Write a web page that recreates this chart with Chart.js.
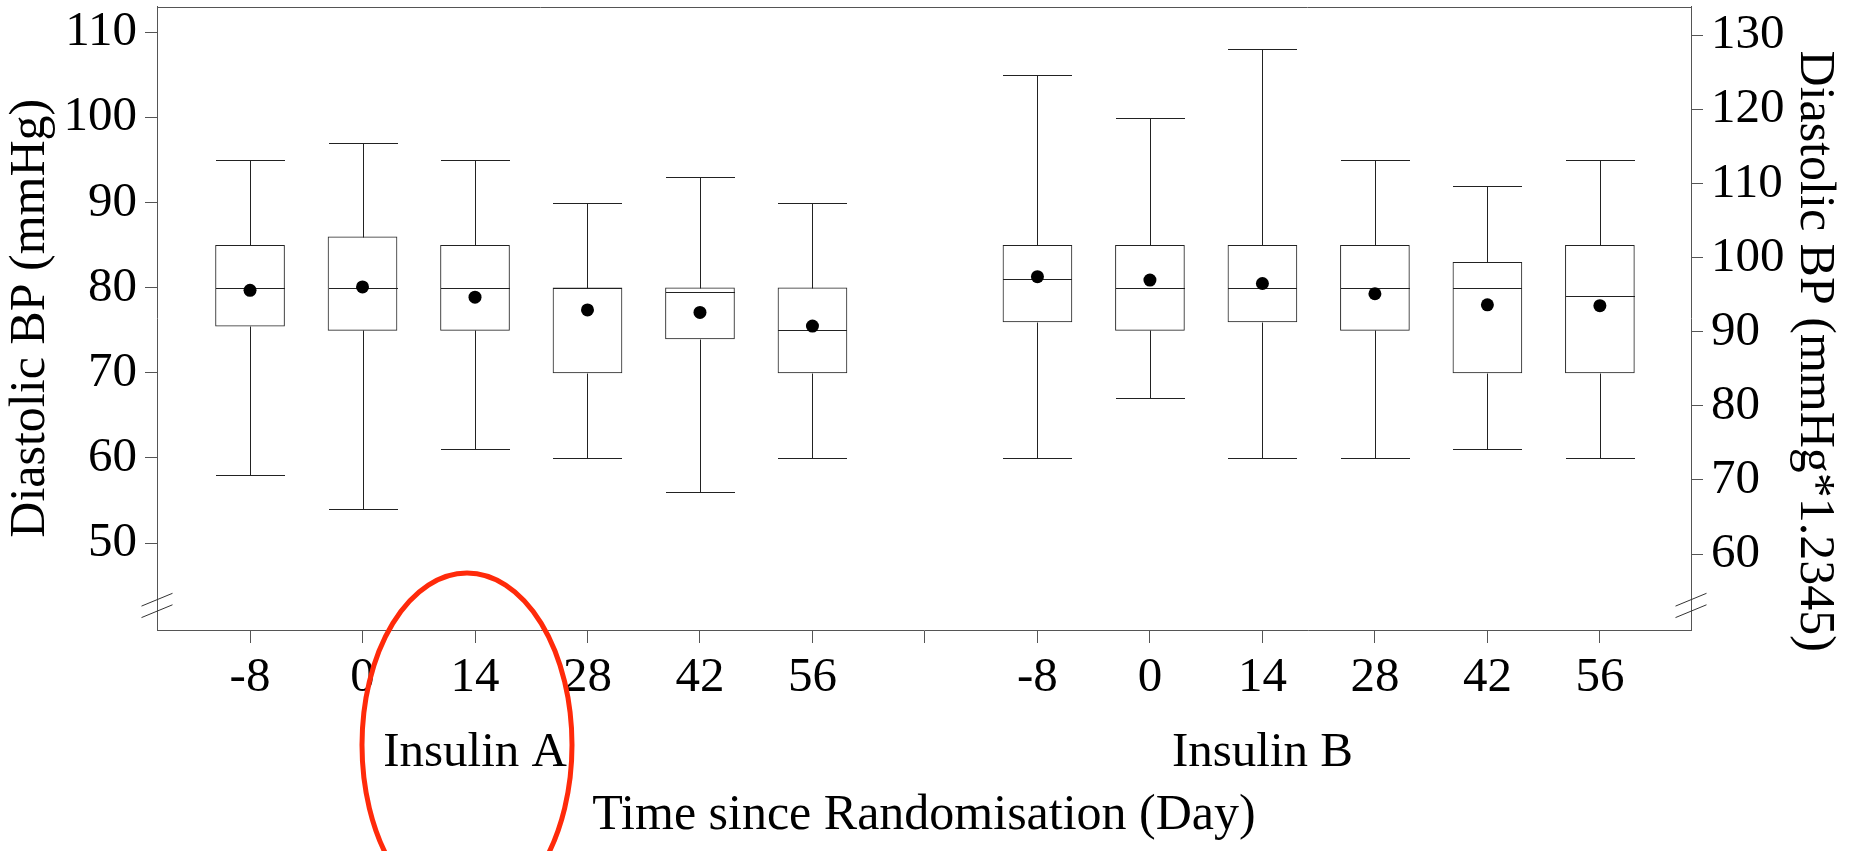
<!DOCTYPE html>
<html>
<head>
<meta charset="utf-8">
<script src="https://cdn.jsdelivr.net/npm/chart.js@4.4.1/dist/chart.umd.min.js"></script>
<style>
html,body{margin:0;padding:0;background:#fff;overflow:hidden}
#wrap{width:1855px;height:851px;position:relative}
</style>
</head>
<body>
<div id="wrap"><canvas id="c"></canvas></div>
<script>
// ---------------- data ----------------
const days = ['-8', '0', '14', '28', '42', '56'];
const groups = ['Insulin A', 'Insulin B'];

const aLow  = [58, 54, 61, 60, 56, 60];
const aQ1   = [75.5, 75, 75, 70, 74, 70];
const aMed  = [80, 80, 80, 80, 79.5, 75];
const aQ3   = [85, 86, 85, 80, 80, 80];
const aHigh = [95, 97, 95, 90, 93, 90];
const aMean = [79.7, 80.1, 78.9, 77.4, 77.1, 75.5];

const bLow  = [60, 67, 60, 60, 61, 60];
const bQ1   = [76, 75, 76, 75, 70, 70];
const bMed  = [81, 80, 80, 80, 80, 79];
const bQ3   = [85, 85, 85, 85, 83, 85];
const bHigh = [105, 100, 108, 95, 92, 95];
const bMean = [81.3, 80.9, 80.5, 79.3, 78.0, 77.9];

const leftTicks  = [50, 60, 70, 80, 90, 100, 110];
const rightTicks = [60, 70, 80, 90, 100, 110, 120, 130];
const leftRange  = [39.79, 113.05];
const rightRange = [49.75, 133.91];

// ---------------- derived tables ----------------
const groupStart = [0, 7];           // category slots; slot 6 is the gap between groups
const groupLabelDay = '14';          // group label sits under this day
const aPos = days.map((d, i) => groupStart[0] + i);
const bPos = days.map((d, i) => groupStart[1] + i);
const xTickValues = [];
const xTickLabels = [];
for (let v = 0; v < groupStart[1] + days.length; v++) { xTickValues.push(v); xTickLabels.push(''); }
groups.forEach((g, gi) => {
  days.forEach((d, i) => {
    const p = groupStart[gi] + i;
    xTickLabels[p] = d === groupLabelDay ? [d, g] : d;
  });
});

const FONT = "'Liberation Serif','Times New Roman',Times,serif";
const BOX_W = 69;
const LINE = '#222';
const AXIS = '#555';

const boxData = (pos, q1, q3) => pos.map((p, i) => ({x: p, y: [q1[i], q3[i]]}));
const meanData = (pos, m) => pos.map((p, i) => ({x: p, y: m[i]}));

const boxParts = {
  id: 'boxParts',
  afterDatasetDraw(chart, args) {
    const ds = chart.data.datasets[args.index];
    if (!ds.parts) return;
    const {ctx} = chart;
    const x = chart.scales.x, y = chart.scales.y;
    const p = ds.parts;
    const half = BOX_W / 2;
    const cy = v => Math.round(y.getPixelForValue(v)) + 0.5;
    ctx.save();
    ctx.strokeStyle = LINE;
    ctx.lineWidth = 1;
    ctx.beginPath();
    p.pos.forEach((pv, i) => {
      const cx = Math.round(x.getPixelForValue(pv)) + 0.5;
      // upper whisker
      ctx.moveTo(cx, cy(p.q3[i])); ctx.lineTo(cx, cy(p.high[i]));
      ctx.moveTo(cx - half, cy(p.high[i])); ctx.lineTo(cx + half, cy(p.high[i]));
      // lower whisker
      ctx.moveTo(cx, cy(p.q1[i])); ctx.lineTo(cx, cy(p.low[i]));
      ctx.moveTo(cx - half, cy(p.low[i])); ctx.lineTo(cx + half, cy(p.low[i]));
      // median
      ctx.moveTo(cx - half, cy(p.med[i])); ctx.lineTo(cx + half, cy(p.med[i]));
    });
    ctx.stroke();
    ctx.restore();
  },
  afterDraw(chart) {
    const {ctx, chartArea} = chart;
    const x = chart.scales.x, y = chart.scales.y, y2 = chart.scales.y2;
    ctx.save();
    // top frame line
    ctx.strokeStyle = AXIS;
    ctx.lineWidth = 1;
    ctx.beginPath();
    const ty = Math.round(chartArea.top) + 0.5;
    ctx.moveTo(chartArea.left, ty); ctx.lineTo(chartArea.right, ty);
    ctx.stroke();
    // axis break marks
    ctx.strokeStyle = '#333';
    ctx.beginPath();
    [43.35, 42.0].forEach(v => {
      const yc = y.getPixelForValue(v);
      [chartArea.left, chartArea.right].forEach(ax => {
        ctx.moveTo(ax - 15.5, yc + 6.4);
        ctx.lineTo(ax + 15.5, yc - 6.4);
      });
    });
    ctx.stroke();
    // right axis title
    ctx.fillStyle = '#000';
    ctx.font = "50px " + FONT;
    ctx.textAlign = 'center';
    ctx.textBaseline = 'middle';
    ctx.translate(y2.right - 41, (chartArea.top + chartArea.bottom) / 2 + 33);
    ctx.rotate(Math.PI / 2);
    ctx.fillText('Diastolic BP (mmHg*1.2345)', 0, 0);
    ctx.restore();
    // red highlight ellipse
    ctx.save();
    ctx.strokeStyle = '#ff2a0a';
    ctx.lineWidth = 5;
    ctx.beginPath();
    ctx.ellipse(x.getPixelForValue(2) - 8, chartArea.bottom + 115, 105, 172, 0, 0, Math.PI * 2);
    ctx.stroke();
    ctx.restore();
  }
};

const gridCommon = (len) => ({display: true, drawOnChartArea: false, drawTicks: true, tickLength: len, color: AXIS, lineWidth: 1, offset: false});
const fixWidth = w => s => { s.width = w; s.paddingTop = 0; s.paddingBottom = 0; };

new Chart(document.getElementById('c'), {
  type: 'bar',
  data: {
    datasets: [
      {type: 'bar', label: groups[0], data: boxData(aPos, aQ1, aQ3), backgroundColor: '#fff', borderColor: LINE, borderWidth: 1, borderSkipped: false, barThickness: BOX_W, grouped: false, order: 2, xAxisID: 'x', yAxisID: 'y',
        parts: {pos: aPos, low: aLow, q1: aQ1, med: aMed, q3: aQ3, high: aHigh}},
      {type: 'bar', label: groups[1], data: boxData(bPos, bQ1, bQ3), backgroundColor: '#fff', borderColor: LINE, borderWidth: 1, borderSkipped: false, barThickness: BOX_W, grouped: false, order: 2, xAxisID: 'x', yAxisID: 'y',
        parts: {pos: bPos, low: bLow, q1: bQ1, med: bMed, q3: bQ3, high: bHigh}},
      {type: 'scatter', label: groups[0] + ' mean', data: meanData(aPos, aMean), pointRadius: 6.5, pointBackgroundColor: '#000', pointBorderWidth: 0, showLine: false, order: 1, xAxisID: 'x', yAxisID: 'y'},
      {type: 'scatter', label: groups[1] + ' mean', data: meanData(bPos, bMean), pointRadius: 6.5, pointBackgroundColor: '#000', pointBorderWidth: 0, showLine: false, order: 1, xAxisID: 'x', yAxisID: 'y'}
    ]
  },
  options: {
    responsive: true,
    maintainAspectRatio: false,
    devicePixelRatio: 1,
    animation: false,
    events: [],
    layout: {padding: {top: 6, left: 0, right: 0, bottom: 0}},
    plugins: {legend: {display: false}, tooltip: {enabled: false}, title: {display: false}},
    scales: {
      x: {
        type: 'linear', position: 'bottom', offset: false,
        min: -0.827, max: 12.81,
        afterBuildTicks: s => { s.ticks = xTickValues.map(v => ({value: v})); },
        afterFit: s => { s.height = 221; s.paddingLeft = 0; s.paddingRight = 0; },
        ticks: {autoSkip: false, maxRotation: 0, minRotation: 0, padding: -3, color: '#000',
          font: {family: FONT, size: 49, lineHeight: 1.545},
          callback: (v, i) => xTickLabels[i]},
        grid: gridCommon(13),
        border: {display: true, color: AXIS, width: 1},
        title: {display: true, text: 'Time since Randomisation (Day)', color: '#000',
          font: {family: FONT, size: 50, lineHeight: 1.2}, padding: {top: 0, bottom: 5}}
      },
      y: {
        type: 'linear', position: 'left', min: leftRange[0], max: leftRange[1], beginAtZero: false,
        afterBuildTicks: s => { s.ticks = leftTicks.map(v => ({value: v})); },
        afterFit: fixWidth(157),
        ticks: {padding: 8, color: '#000', font: {family: FONT, size: 49, lineHeight: 0.2}},
        grid: gridCommon(12),
        border: {display: true, color: AXIS, width: 1},
        title: {display: true, text: 'Diastolic BP (mmHg)', color: '#000',
          font: {family: FONT, size: 50, lineHeight: 1.2}, padding: {top: 1, bottom: 0}}
      },
      y2: {
        type: 'linear', position: 'right', display: true, min: rightRange[0], max: rightRange[1], beginAtZero: false,
        afterBuildTicks: s => { s.ticks = rightTicks.map(v => ({value: v})); },
        afterFit: fixWidth(164),
        ticks: {padding: 8, color: '#000', font: {family: FONT, size: 49, lineHeight: 0.2}},
        grid: gridCommon(12),
        border: {display: true, color: AXIS, width: 1},
        title: {display: false}
      }
    }
  },
  plugins: [boxParts]
});
</script>
</body>
</html>
